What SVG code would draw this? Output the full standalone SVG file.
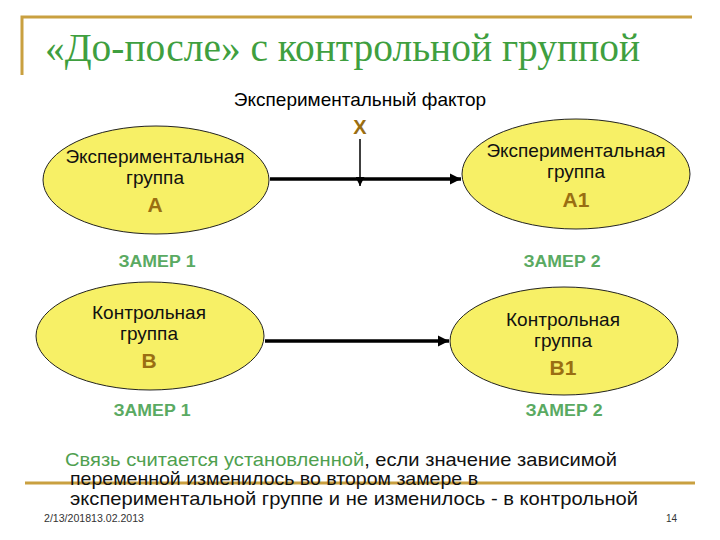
<svg xmlns="http://www.w3.org/2000/svg" width="720" height="540" viewBox="0 0 720 540">
<style>
.title{font-family:"Liberation Serif",serif;font-size:39px;fill:#3f9f3f}
.lbl{font-family:"Liberation Sans",Arial,sans-serif;font-size:19px;fill:#000}
.grp{font-family:"Liberation Sans",Arial,sans-serif;font-size:19px;fill:#111;text-anchor:middle}
.let{font-family:"Liberation Sans",Arial,sans-serif;font-size:21px;font-weight:bold;fill:#9a6e12;text-anchor:middle}
.zam{font-family:"Liberation Sans",Arial,sans-serif;font-size:16px;font-weight:bold;fill:#5aaa62;text-anchor:middle}
.body{font-family:"Liberation Sans",Arial,sans-serif;font-size:19px;fill:#111}
.foot{font-family:"Liberation Sans",Arial,sans-serif;font-size:10px;fill:#333}
.ell{fill:#f7f066;stroke:#222;stroke-width:1}
.gold{stroke:#c9a040;stroke-width:3;fill:none}
.conn{stroke:#000;stroke-width:3.5;fill:none}
</style>
<defs>
<marker id="ah" viewBox="0 0 10 10" refX="10" refY="5" markerWidth="3.2" markerHeight="3.2" orient="auto" markerUnits="strokeWidth">
<path d="M0,0 L10,5 L0,10 z" fill="#000"/>
</marker>
<marker id="ahs" viewBox="0 0 10 10" refX="10" refY="5" markerWidth="6" markerHeight="6" orient="auto" markerUnits="strokeWidth">
<path d="M0,0 L10,5 L0,10 z" fill="#000"/>
</marker>
</defs>
<rect width="720" height="540" fill="#fff"/>
<g id="frame">
<path class="gold" d="M22,75 L22,17 L692,17"/>
<line class="gold" x1="25" y1="483" x2="695" y2="483"/>
</g>
<g id="title"><text class="title" x="45" y="61" textLength="595" lengthAdjust="spacingAndGlyphs">«До-после» с контрольной группой</text></g>
<g id="factor">
<text class="lbl" x="360" y="106" text-anchor="middle">Экспериментальный фактор</text>
<text class="let" x="360" y="134" style="font-size:20px">X</text>
</g>
<g id="connectors">
<line class="conn" x1="270" y1="179" x2="461" y2="179" marker-end="url(#ah)"/>
<line class="conn" x1="265" y1="341" x2="449" y2="341" marker-end="url(#ah)"/>
<line x1="360" y1="139" x2="360" y2="186" stroke="#000" stroke-width="1.5" marker-end="url(#ahs)"/>
</g>
<g id="nodeA">
<ellipse class="ell" cx="156" cy="180" rx="113" ry="54"/>
<text class="grp" x="155" y="163">Экспериментальная</text>
<text class="grp" x="155" y="184">группа</text>
<text class="let" x="155" y="212">А</text>
</g>
<g id="nodeA1">
<ellipse class="ell" cx="576" cy="174" rx="114" ry="55"/>
<text class="grp" x="576" y="157">Экспериментальная</text>
<text class="grp" x="576" y="178">группа</text>
<text class="let" x="576" y="207">А1</text>
</g>
<g id="nodeB">
<ellipse class="ell" cx="150" cy="336" rx="114" ry="54"/>
<text class="grp" x="149" y="319">Контрольная</text>
<text class="grp" x="149" y="340">группа</text>
<text class="let" x="149" y="368">В</text>
</g>
<g id="nodeB1">
<ellipse class="ell" cx="564" cy="341" rx="114" ry="54"/>
<text class="grp" x="563" y="326">Контрольная</text>
<text class="grp" x="563" y="347">группа</text>
<text class="let" x="563" y="375">В1</text>
</g>
<g id="measures">
<text class="zam" x="157" y="267" textLength="77" lengthAdjust="spacingAndGlyphs">ЗАМЕР 1</text>
<text class="zam" x="562" y="267" textLength="77" lengthAdjust="spacingAndGlyphs">ЗАМЕР 2</text>
<text class="zam" x="152" y="416" textLength="77" lengthAdjust="spacingAndGlyphs">ЗАМЕР 1</text>
<text class="zam" x="564" y="416" textLength="77" lengthAdjust="spacingAndGlyphs">ЗАМЕР 2</text>
</g>
<g id="conclusion">
<text class="body" x="65" y="466" textLength="552" lengthAdjust="spacingAndGlyphs"><tspan fill="#4fa04f">Связь считается установленной</tspan>, если значение зависимой</text>
<text class="body" x="70" y="485" textLength="408" lengthAdjust="spacingAndGlyphs">переменной изменилось во втором замере в</text>
<text class="body" x="70" y="505" textLength="568" lengthAdjust="spacingAndGlyphs">экспериментальной группе и не изменилось  - в контрольной</text>
</g>
<g id="footer">
<text class="foot" x="44" y="522" textLength="100" lengthAdjust="spacingAndGlyphs">2/13/201813.02.2013</text>
<text class="foot" x="666" y="522">14</text>
</g>
</svg>
